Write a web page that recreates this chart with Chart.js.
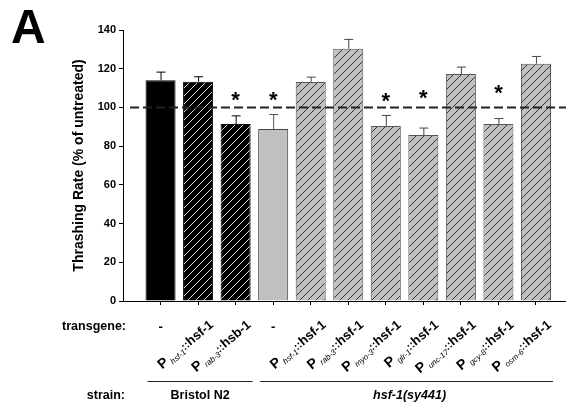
<!DOCTYPE html>
<html>
<head>
<meta charset="utf-8">
<script src="https://cdn.jsdelivr.net/npm/chart.js@4.4.0/dist/chart.umd.min.js"></script>
<style>
html, body { margin: 0; padding: 0; background: #fff; }
#wrap { width: 566px; height: 412px; }
</style>
</head>
<body>
<div id="wrap"><canvas id="chart" width="566" height="412"></canvas></div>
<script>

// bar positions on the x axis (1 = first bar)
var positions = [1, 2, 3, 4, 5, 6, 7, 8, 9, 10, 11];
var rates = [114.0, 113.3, 91.4, 88.8, 113.2, 130.3, 90.4, 85.7, 117.3, 91.4, 122.6];
var errors = [4.5, 2.8, 4.5, 7.8, 2.7, 5.1, 5.7, 3.9, 3.8, 3.1, 4.0];
var stars = [null, null, 107, 107, null, null, 106.5, 108, null, 110.5, null];
var kinds = ['black', 'hatchBlack', 'hatchBlack', 'grey', 'hatchGrey', 'hatchGrey', 'hatchGrey', 'hatchGrey', 'hatchGrey', 'hatchGrey', 'hatchGrey'];

// transgene labels: promoter subscript and gene ('' = no transgene, drawn as '-')
var promoters = ['', 'hsf-1', 'rab-3', '', 'hsf-1', 'rab-3', 'myo-3', 'glr-1', 'unc-17', 'gcy-8', 'osm-6'];
var genes = ['', 'hsf-1', 'hsb-1', '', 'hsf-1', 'hsf-1', 'hsf-1', 'hsf-1', 'hsf-1', 'hsf-1', 'hsf-1'];

var strains = ['Bristol N2', 'hsf-1(sy441)'];
var strainFirst = [1, 4];
var strainLast = [3, 11];

var yTicks = [0, 20, 40, 60, 80, 100, 120, 140];
var refLine = 100;

var FONT = '"Liberation Sans", Arial, sans-serif';

var ctx = document.getElementById('chart');
var g0 = ctx.getContext('2d');

function hatch(bg, fg) {
	var c = document.createElement('canvas');
	c.width = 8; c.height = 8;
	var g = c.getContext('2d');
	g.fillStyle = bg;
	g.fillRect(0, 0, 8, 8);
	g.strokeStyle = fg;
	g.lineWidth = 1;
	g.beginPath();
	g.moveTo(0, 8); g.lineTo(8, 0);
	g.moveTo(-2, 2); g.lineTo(2, -2);
	g.moveTo(6, 10); g.lineTo(10, 6);
	g.stroke();
	return g0.createPattern(c, 'repeat');
}

var fills = {
	black: '#000000',
	hatchBlack: hatch('#000000', '#d8d8d8'),
	grey: '#c0c0c0',
	hatchGrey: hatch('#c0c0c0', '#333333')
};
var borders = { black: '#000000', hatchBlack: '#000000', grey: '#444444', hatchGrey: '#555555' };
var errColors = { black: '#000000', hatchBlack: '#000000', grey: '#555555', hatchGrey: '#444444' };

function drawConstruct(c, x, y, prom, gene) {
	var parts = [
		{ t: 'P', f: 'bold 14px ' + FONT, dy: 0 },
		{ t: ' ' + prom, f: 'italic 8px ' + FONT, dy: 3 },
		{ t: '::', f: 'bold 11px ' + FONT, dy: 0 },
		{ t: gene, f: 'bold 13px ' + FONT, dy: 0 }
	];
	var total = 0;
	parts.forEach(function (p) { c.font = p.f; p.w = c.measureText(p.t).width; total += p.w; });
	c.save();
	c.translate(x, y);
	c.rotate(-40 * Math.PI / 180);
	c.textAlign = 'left';
	c.textBaseline = 'alphabetic';
	var cx = -total;
	parts.forEach(function (p) {
		c.font = p.f;
		c.fillText(p.t, cx, p.dy);
		cx += p.w;
	});
	c.restore();
}

var extras = {
	id: 'extras',
	afterDatasetsDraw: function (chart) {
		var c = chart.ctx;
		var xs = chart.scales.x, ys = chart.scales.y;
		var area = chart.chartArea;
		c.save();

		// error bars (upper only)
		positions.forEach(function (p, i) {
			var x = xs.getPixelForValue(p);
			var y0 = ys.getPixelForValue(rates[i]);
			var y1 = ys.getPixelForValue(rates[i] + errors[i]);
			c.strokeStyle = errColors[kinds[i]];
			c.lineWidth = 1;
			c.beginPath();
			c.moveTo(x + 0.5, y0);
			c.lineTo(x + 0.5, y1 + 0.5);
			c.moveTo(x - 4, y1 + 0.5);
			c.lineTo(x + 5, y1 + 0.5);
			c.stroke();
		});

		// dashed reference line
		var yr = ys.getPixelForValue(refLine);
		c.strokeStyle = '#222';
		c.lineWidth = 2;
		c.setLineDash([9, 4]);
		c.beginPath();
		c.moveTo(area.left + 7, yr);
		c.lineTo(chart.width, yr);
		c.stroke();
		c.setLineDash([]);

		// significance stars
		c.fillStyle = '#000';
		c.font = 'bold 22px ' + FONT;
		c.textAlign = 'center';
		c.textBaseline = 'alphabetic';
		stars.forEach(function (s, i) {
			if (s === null) return;
			c.fillText('*', xs.getPixelForValue(positions[i]), ys.getPixelForValue(s) + 13);
		});

		// panel letter
		c.textAlign = 'left';
		c.font = 'bold 48px ' + FONT;
		c.fillText('A', 11, 43);

		// transgene row
		c.font = 'bold 12.5px ' + FONT;
		c.textAlign = 'right';
		c.textBaseline = 'middle';
		c.fillText('transgene:', 126, 327);
		c.fillText('strain:', 125, 396);

		positions.forEach(function (p, i) {
			var x = xs.getPixelForValue(p);
			if (genes[i] === '') {
				c.font = 'bold 13px ' + FONT;
				c.textAlign = 'center';
				c.textBaseline = 'middle';
				c.fillText('-', x, 327);
			} else {
				drawConstruct(c, x + 16, 326, promoters[i], genes[i]);
			}
		});

		// strain groups
		c.strokeStyle = '#222';
		c.lineWidth = 1;
		strains.forEach(function (s, k) {
			var a = xs.getPixelForValue(strainFirst[k]) - 13;
			var b = xs.getPixelForValue(strainLast[k]) + 17;
			c.beginPath();
			c.moveTo(a, 381.5);
			c.lineTo(b, 381.5);
			c.stroke();
			c.font = (k === 1 ? 'italic ' : '') + 'bold 12.5px ' + FONT;
			c.textAlign = 'center';
			c.textBaseline = 'middle';
			c.fillText(s, (a + b) / 2 + (k === 1 ? 3 : 0), 396);
		});

		c.restore();
	}
};

var chart = new Chart(ctx, {
	type: 'bar',
	data: {
		datasets: [{
			data: positions.map(function (p, i) { return { x: p, y: rates[i] }; }),
			backgroundColor: kinds.map(function (k) { return fills[k]; }),
			borderColor: kinds.map(function (k) { return borders[k]; }),
			borderWidth: 1,
			barPercentage: 0.8,
			categoryPercentage: 1.0
		}]
	},
	options: {
		responsive: false,
		animation: false,
		layout: { padding: { top: 30, right: 0, left: 0, bottom: 0 } },
		plugins: { legend: { display: false }, tooltip: { enabled: false } },
		scales: {
			x: {
				type: 'linear',
				offset: false,
				min: 0,
				max: 11.8,
				afterBuildTicks: function (scale) {
					scale.ticks = positions.map(function (p) { return { value: p }; });
				},
				afterFit: function (scale) { scale.height = 111; },
				ticks: { display: false },
				grid: { drawOnChartArea: false, drawTicks: true, tickLength: 4, color: '#000', offset: false },
				border: { color: '#000', width: 1 }
			},
			y: {
				min: 0,
				max: 140,
				afterBuildTicks: function (scale) {
					scale.ticks = yTicks.map(function (v) { return { value: v }; });
				},
				afterFit: function (scale) { scale.width = 123; },
				ticks: { color: '#000', font: { family: FONT, size: 11, weight: 'bold' }, padding: 3 },
				grid: { drawOnChartArea: false, drawTicks: true, tickLength: 4, color: '#000' },
				border: { color: '#000', width: 1 },
				title: {
					display: true,
					text: 'Thrashing Rate (% of untreated)',
					color: '#000',
					font: { family: FONT, size: 14, weight: 'bold' },
					padding: { top: 71, bottom: 0 }
				}
			}
		}
	},
	plugins: [extras]
});

</script>
</body>
</html>
